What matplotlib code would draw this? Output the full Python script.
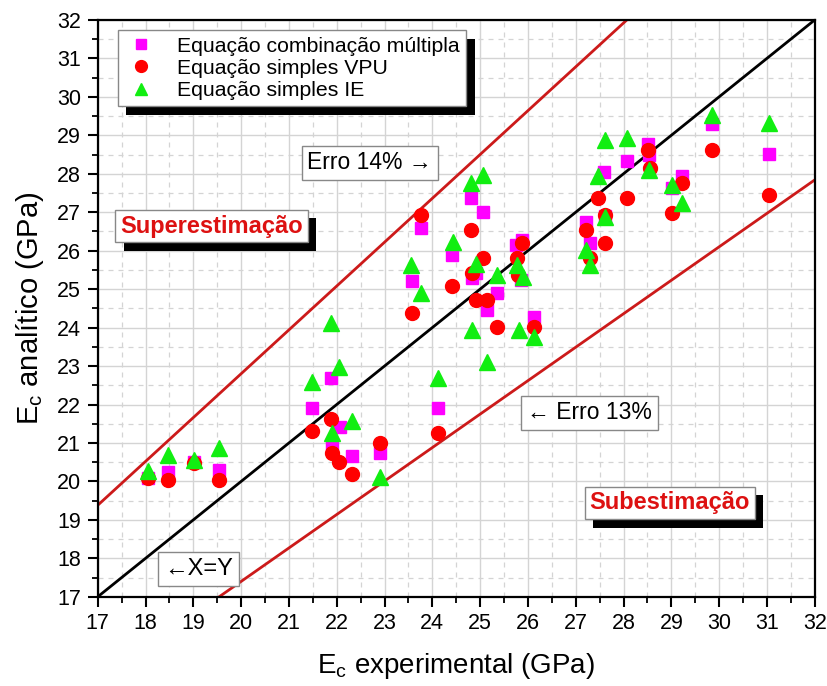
import matplotlib
matplotlib.use("Agg")
import matplotlib.pyplot as plt
import matplotlib.patheffects as pe
import numpy as np

plt.rcParams['font.family'] = ['Liberation Sans', 'DejaVu Sans']

# Equação combinação múltipla
mult_x = [18.05, 18.47, 19.01, 19.54, 21.48, 21.87, 22.06, 21.90, 22.32, 22.90,
          23.77, 23.58, 24.12, 24.41, 24.80, 25.05, 24.92, 24.82, 25.15, 25.36,
          25.76, 25.88, 25.85, 26.13, 27.22, 27.29, 27.61, 27.60, 28.08, 28.51,
          28.53, 29.23, 29.02, 29.86, 31.04]
mult_y = [20.10, 20.25, 20.51, 20.30, 21.92, 22.70, 21.41, 20.97, 20.66, 20.73,
          26.58, 25.21, 21.92, 25.90, 27.38, 27.01, 25.42, 25.28, 24.47, 24.89,
          26.14, 26.29, 25.25, 24.28, 26.75, 26.19, 26.90, 28.05, 28.33, 28.78,
          28.48, 27.94, 27.62, 29.29, 28.52]

# Equação simples VPU
vpu_x = [18.05, 18.47, 19.01, 19.54, 21.48, 21.87, 21.90, 22.04, 22.32, 22.90,
         23.77, 23.58, 24.12, 24.41, 24.80, 25.05, 24.82, 24.92, 25.15, 25.35,
         25.88, 25.77, 25.80, 26.13, 27.22, 27.29, 27.61, 27.61, 27.47, 28.08,
         28.51, 28.55, 29.23, 29.02, 29.86, 31.04]
vpu_y = [20.08, 20.03, 20.48, 20.03, 21.31, 21.62, 20.73, 20.51, 20.20, 20.99,
         26.92, 24.37, 21.27, 25.08, 26.55, 25.81, 25.43, 24.73, 24.71, 24.02,
         26.20, 25.82, 25.36, 24.01, 26.53, 25.80, 26.94, 26.20, 27.38, 27.38,
         28.63, 28.16, 27.75, 26.97, 28.61, 27.44]

# Equação simples IE
ie_x = [18.05, 18.47, 19.01, 19.54, 21.48, 21.87, 22.04, 21.90, 22.32, 22.90,
        23.56, 23.77, 24.12, 24.43, 24.80, 25.05, 24.92, 25.36, 24.82, 25.15,
        25.77, 25.90, 25.81, 26.13, 27.22, 27.29, 27.61, 27.47, 27.61, 28.08,
        28.53, 29.23, 29.02, 29.86, 31.04]
ie_y = [20.28, 20.69, 20.56, 20.86, 22.59, 24.12, 22.98, 21.25, 21.57, 20.12,
        25.62, 24.90, 22.70, 26.23, 27.75, 27.96, 25.65, 25.36, 23.95, 23.11,
        25.62, 25.32, 23.94, 23.76, 26.01, 25.62, 26.88, 27.94, 28.89, 28.93,
        28.11, 27.23, 27.70, 29.52, 29.32]

upper_factor = 1.14
lower_factor = 0.87

fig = plt.figure(figsize=(8.28, 6.86), dpi=100)
ax = fig.add_axes([0.118, 0.130, 0.866, 0.841])

ax.set_xlim(17, 32)
ax.set_ylim(17, 32)
ax.set_xticks(np.arange(17, 33, 1))
ax.set_yticks(np.arange(17, 33, 1))
ax.set_xticks(np.arange(17.5, 32, 1), minor=True)
ax.set_yticks(np.arange(17.5, 32, 1), minor=True)
ax.grid(which='major', color='#d4d4d4', lw=1.0, ls='-')
ax.grid(which='minor', color='#d4d4d4', lw=0.9, ls=(0, (4, 4)))
ax.set_axisbelow(True)

for s in ax.spines.values():
    s.set_linewidth(1.6)
ax.tick_params(which='major', direction='out', length=7, width=1.5, labelsize=15.5, pad=5)
ax.tick_params(which='minor', direction='out', length=4, width=1.3)

xx = np.array([17, 32])
ax.plot(xx, xx, color='black', lw=2)
ax.plot(xx, upper_factor * xx, color='#cc1a1a', lw=2)
ax.plot(xx, lower_factor * xx, color='#cc1a1a', lw=2)

ax.plot(mult_x, mult_y, 's', color='#ff00ff', ms=9, ls='none', label='Equação combinação múltipla')
ax.plot(vpu_x, vpu_y, 'o', color='#ff0000', ms=10, ls='none', label='Equação simples VPU')
ax.plot(ie_x, ie_y, '^', color='#11ee11', ms=11, ls='none', label='Equação simples IE')

ax.set_xlabel(r'E$_\mathregular{c}$ experimental (GPa)', fontsize=20, labelpad=12)
ax.set_ylabel(r'E$_\mathregular{c}$ analítico (GPa)', fontsize=21, labelpad=8)

shadow = [pe.SimplePatchShadow(offset=(6, -6), shadow_rgbFace='black', alpha=1), pe.Normal()]

leg = ax.legend(loc='upper left', bbox_to_anchor=(0.028, 0.982), fontsize=15.3,
                frameon=True, fancybox=False, borderpad=0.3, labelspacing=0.15,
                handlelength=1.6, handletextpad=0.9, borderaxespad=0, markerscale=0.85)
leg.get_frame().set_edgecolor('#888888')
leg.get_frame().set_linewidth(1)
leg.get_frame().set_alpha(1)
leg.get_frame().set_path_effects(shadow)

box_plain = dict(boxstyle='square,pad=0.25', fc='white', ec='#888888', lw=1)

t = ax.text(19.38, 26.64, 'Superestimação', fontsize=17, fontweight='bold', color='#dd1111',
            ha='center', va='center', bbox=dict(boxstyle='square,pad=0.2', fc='white', ec='#888888', lw=1))
t.get_bbox_patch().set_path_effects(shadow)
t = ax.text(28.97, 19.44, 'Subestimação', fontsize=17, fontweight='bold', color='#dd1111',
            ha='center', va='center', bbox=dict(boxstyle='square,pad=0.2', fc='white', ec='#888888', lw=1))
t.get_bbox_patch().set_path_effects(shadow)

ax.text(22.69, 28.28, 'Erro 14% →', fontsize=16.5, ha='center', va='center', bbox=box_plain)
ax.text(27.29, 21.78, '← Erro 13%', fontsize=16.5, ha='center', va='center', bbox=box_plain)
ax.text(19.11, 17.73, '←X=Y', fontsize=17, ha='center', va='center', bbox=box_plain)

fig.savefig('out.png', dpi=100)
